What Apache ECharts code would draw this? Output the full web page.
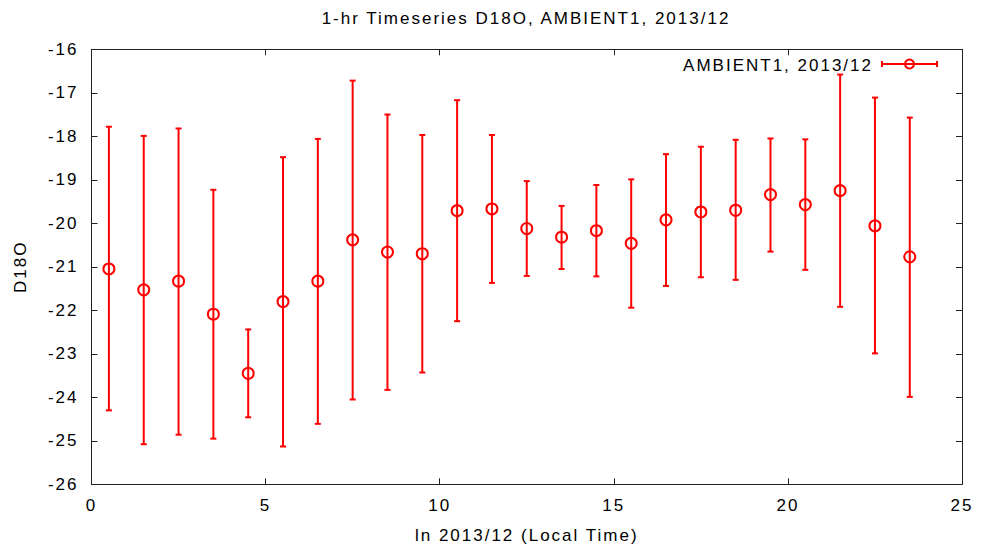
<!DOCTYPE html>
<html>
<head>
<meta charset="utf-8">
<script src="https://cdn.jsdelivr.net/npm/echarts@6/dist/echarts.min.js"></script>
<style>
  html, body { margin: 0; padding: 0; background: #fff; }
  #chart { width: 986px; height: 559px; }
  #chart text { letter-spacing: 2px; }
</style>
</head>
<body>
<div id="chart"></div>
<script>
// ---- data ----
var titleText = '1-hr Timeseries D18O, AMBIENT1, 2013/12';
var seriesName = 'AMBIENT1, 2013/12';
var xAxisName = 'ln 2013/12 (Local Time)';
var yAxisName = 'D18O';
var hours = [0.5, 1.5, 2.5, 3.5, 4.5, 5.5, 6.5, 7.5, 8.5, 9.5, 10.5, 11.5,
             12.5, 13.5, 14.5, 15.5, 16.5, 17.5, 18.5, 19.5, 20.5, 21.5, 22.5, 23.5];
var d18o = [-21.05, -21.53, -21.33, -22.09, -23.45, -21.80, -21.33, -20.38, -20.66, -20.70, -19.71, -19.67,
            -20.12, -20.32, -20.17, -20.46, -19.92, -19.74, -19.70, -19.34, -19.57, -19.25, -20.06, -20.77];
var upper = [-17.78, -17.99, -17.82, -19.23, -22.44, -18.48, -18.06, -16.72, -17.50, -17.97, -17.17, -17.97,
             -19.03, -19.60, -19.12, -18.99, -18.41, -18.24, -18.08, -18.05, -18.07, -16.58, -17.11, -17.57];
var lower = [-24.30, -25.08, -24.86, -24.95, -24.46, -25.13, -24.61, -24.05, -23.83, -23.43, -22.25, -21.37,
             -21.21, -21.05, -21.22, -21.94, -21.44, -21.24, -21.30, -20.65, -21.07, -21.92, -22.99, -23.99];
var xTicks = { min: 0, max: 25, interval: 5 };
var yTicks = { min: -26, max: -16, interval: 1 };

// ---- build ----
var RED = '#ff0000';
var FONT = "'Liberation Sans', Arial, Helvetica, sans-serif";
var FS = 17;

var pointData = hours.map(function (h, i) { return [h, d18o[i]]; });
var barData = hours.map(function (h, i) { return [h, lower[i], upper[i]]; });

var chart = echarts.init(document.getElementById('chart'), null, { renderer: 'svg' });

function axisCommon(extra) {
  var o = {
    type: 'value',
    axisLine: { show: true, onZero: false, lineStyle: { color: '#222', width: 1 } },
    axisTick: { show: true, inside: true, length: 6, lineStyle: { color: '#222', width: 1 } },
    splitLine: { show: false },
    axisLabel: { show: true, color: '#000', fontSize: FS, fontFamily: FONT }
  };
  for (var k in extra) o[k] = extra[k];
  return o;
}

var option = {
  backgroundColor: '#fff',
  animation: false,
  title: {
    text: titleText,
    left: 521,
    textAlign: 'center',
    top: 5,
    textStyle: { color: '#000', fontSize: FS, fontWeight: 'normal', fontFamily: FONT }
  },
  grid: { left: 91.5, right: 24, top: 49.3, bottom: 74.7, containLabel: false },
  xAxis: [
    axisCommon({
      min: xTicks.min, max: xTicks.max, interval: xTicks.interval, position: 'bottom',
      name: xAxisName, nameLocation: 'middle', nameGap: 43,
      nameTextStyle: { color: '#000', fontSize: FS, fontFamily: FONT },
      axisLabel: { show: true, color: '#000', fontSize: FS, fontFamily: FONT, margin: 13 }
    }),
    axisCommon({
      min: xTicks.min, max: xTicks.max, interval: xTicks.interval, position: 'top',
      axisLabel: { show: false }
    })
  ],
  yAxis: [
    axisCommon({
      min: yTicks.min, max: yTicks.max, interval: yTicks.interval, position: 'left',
      name: yAxisName, nameLocation: 'middle', nameGap: 63, nameRotate: 90,
      nameTextStyle: { color: '#000', fontSize: FS, fontFamily: FONT },
      axisLabel: { show: true, color: '#000', fontSize: FS, fontFamily: FONT, margin: 13 }
    }),
    axisCommon({
      min: yTicks.min, max: yTicks.max, interval: yTicks.interval, position: 'right',
      axisLabel: { show: false }
    })
  ],
  series: [
    {
      type: 'custom',
      name: seriesName,
      xAxisIndex: 0, yAxisIndex: 0,
      data: barData,
      encode: { x: 0, y: [1, 2] },
      renderItem: function (params, api) {
        var x = api.value(0);
        var lo = api.coord([x, api.value(1)]);
        var hi = api.coord([x, api.value(2)]);
        var cap = 3;
        var st = { stroke: RED, lineWidth: 2 };
        return {
          type: 'group',
          children: [
            { type: 'line', shape: { x1: lo[0], y1: lo[1], x2: hi[0], y2: hi[1] }, style: st },
            { type: 'line', shape: { x1: lo[0] - cap, y1: lo[1], x2: lo[0] + cap, y2: lo[1] }, style: st },
            { type: 'line', shape: { x1: hi[0] - cap, y1: hi[1], x2: hi[0] + cap, y2: hi[1] }, style: st }
          ]
        };
      },
      z: 2
    },
    {
      type: 'scatter',
      name: seriesName,
      xAxisIndex: 0, yAxisIndex: 0,
      data: pointData,
      symbol: 'circle',
      symbolSize: 11,
      itemStyle: { color: 'rgba(0,0,0,0)', borderColor: RED, borderWidth: 2, opacity: 1 },
      z: 3
    }
  ],
  graphic: [
    {
      type: 'text', x: 873, y: 65,
      style: { text: seriesName, fill: '#000', fontSize: FS, fontFamily: FONT,
               textAlign: 'right', textVerticalAlign: 'middle' }
    },
    { type: 'line', shape: { x1: 882, y1: 64, x2: 937, y2: 64 }, style: { stroke: RED, lineWidth: 2 } },
    { type: 'line', shape: { x1: 882, y1: 61, x2: 882, y2: 67 }, style: { stroke: RED, lineWidth: 2 } },
    { type: 'line', shape: { x1: 937, y1: 61, x2: 937, y2: 67 }, style: { stroke: RED, lineWidth: 2 } },
    { type: 'circle', shape: { cx: 909.5, cy: 64, r: 4.5 }, style: { fill: 'none', stroke: RED, lineWidth: 2 } }
  ]
};
chart.setOption(option);
</script>
</body>
</html>
